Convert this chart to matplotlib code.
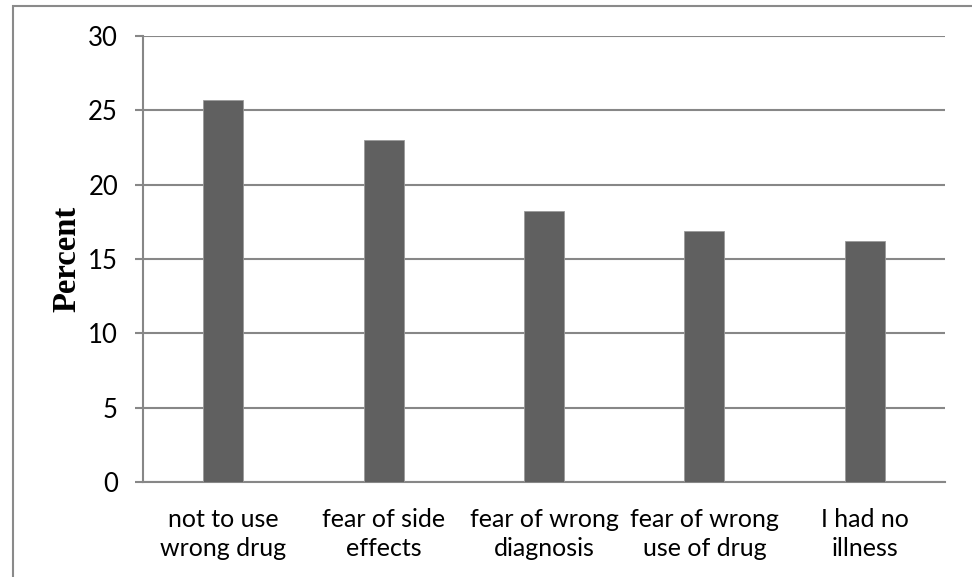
import matplotlib
matplotlib.use("Agg")
import matplotlib.pyplot as plt
from matplotlib.patches import Rectangle

categories = ["not to use\nwrong drug", "fear of side\neffects", "fear of wrong\ndiagnosis",
              "fear of wrong\nuse of drug", "I had no\nillness"]
values = [25.7, 23.0, 18.2, 16.9, 16.2]
yticks = [0, 5, 10, 15, 20, 25, 30]

W, H = 972, 577
fig = plt.figure(figsize=(W / 100, H / 100), dpi=100)
fig.patch.set_facecolor("white")

# outer frame (only left and top visible)
fig.patches.append(Rectangle((13 / W, -0.1), 1.2, (H - 6) / H + 0.1, transform=fig.transFigure,
                             fill=False, edgecolor="#8a8a8a", linewidth=1.5))

left, right, top, bottom = 143, 945, 36, 482
ax = fig.add_axes([left / W, 1 - bottom / H, (right - left) / W, (bottom - top) / H])

x = list(range(len(categories)))
ax.bar(x, values, width=0.25, color="#606060", edgecolor="#9a9a9a", linewidth=0.6, zorder=3)
ax.set_xlim(-0.5, len(categories) - 0.5)
ax.set_ylim(0, 30)
ax.set_yticks(yticks)
ax.set_yticklabels([str(v) for v in yticks])
ax.set_xticks(x)
ax.set_xticklabels(categories)

grid_color = "#878787"
ax.yaxis.grid(True, color=grid_color, linewidth=1.5, zorder=0)
ax.set_axisbelow(True)
for s in ["top", "right"]:
    ax.spines[s].set_visible(False)
for s in ["left", "bottom"]:
    ax.spines[s].set_color(grid_color)
    ax.spines[s].set_linewidth(1.5)

ax.tick_params(axis="y", length=6, width=1.5, color=grid_color, pad=12, labelsize=18.5)
ax.tick_params(axis="x", length=0, pad=19, labelsize=18)
for lab in ax.get_yticklabels() + ax.get_xticklabels():
    lab.set_fontfamily(["Lato", "DejaVu Sans"])
    lab.set_color("black")
for lab in ax.get_xticklabels():
    lab.set_linespacing(1.3)

fig.text(67 / W, 1 - 259 / H, "Percent", rotation=90, ha="center", va="center",
         fontsize=23.5, fontweight="bold", family=["Liberation Serif", "DejaVu Serif"])

fig.savefig("out.png", dpi=100, facecolor="white")
